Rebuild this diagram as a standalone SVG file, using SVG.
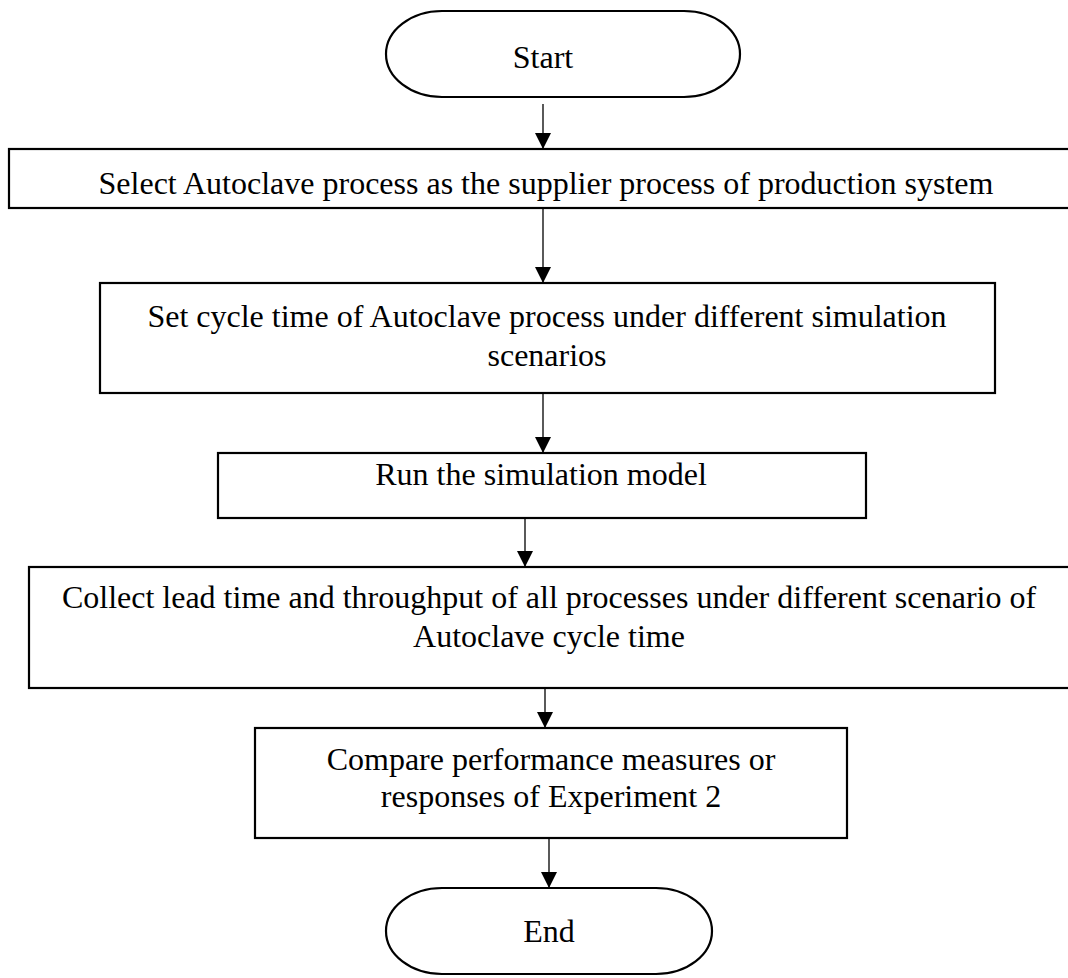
<svg xmlns="http://www.w3.org/2000/svg" width="1068" height="978" viewBox="0 0 1068 978">
  <style>
    .box { fill: #ffffff; stroke: #000000; stroke-width: 2.2; }
    .lbl { font-family: "Liberation Serif", "Times New Roman", serif; font-size: 32px; fill: #000000; text-anchor: middle; }
    .flow { stroke: #000000; stroke-width: 1.3; fill: none; marker-end: url(#arrow); }
  </style>
  <defs>
    <marker id="arrow" markerUnits="userSpaceOnUse" markerWidth="16" markerHeight="16" viewBox="0 0 16 16" refX="16" refY="8" orient="auto">
      <path d="M0,0 L16,8 L0,16 Z" fill="#000000"/>
    </marker>
  </defs>
  <rect width="1068" height="978" fill="#ffffff"/>

  <g id="connectors">
    <line class="flow" x1="543" y1="104" x2="543" y2="149"/>
    <line class="flow" x1="543" y1="208" x2="543" y2="283"/>
    <line class="flow" x1="543" y1="393" x2="543" y2="453"/>
    <line class="flow" x1="525" y1="518" x2="525" y2="567"/>
    <line class="flow" x1="545" y1="688" x2="545" y2="728"/>
    <line class="flow" x1="549" y1="838" x2="549" y2="888"/>
  </g>

  <g id="start">
    <rect class="box" x="386" y="11" width="354" height="86" rx="56" ry="43"/>
    <text class="lbl" x="543" y="68">Start</text>
  </g>

  <g id="select-supplier">
    <rect class="box" x="9" y="149" width="1080" height="59"/>
    <text class="lbl" x="546" y="194">Select Autoclave process as the supplier process of production system</text>
  </g>

  <g id="set-cycle-time">
    <rect class="box" x="100" y="283" width="895" height="110"/>
    <text class="lbl" x="547" y="327">Set cycle time of Autoclave process under different simulation</text>
    <text class="lbl" x="547" y="366">scenarios</text>
  </g>

  <g id="run-model">
    <rect class="box" x="218" y="453" width="648" height="65"/>
    <text class="lbl" x="541" y="485">Run the simulation model</text>
  </g>

  <g id="collect-results">
    <rect class="box" x="29" y="567" width="1060" height="121"/>
    <text class="lbl" x="549" y="608">Collect lead time and throughput of all processes under different scenario of</text>
    <text class="lbl" x="549" y="647">Autoclave cycle time</text>
  </g>

  <g id="compare-responses">
    <rect class="box" x="255" y="728" width="592" height="110"/>
    <text class="lbl" x="551" y="770">Compare performance measures or</text>
    <text class="lbl" x="551" y="807">responses of Experiment 2</text>
  </g>

  <g id="end">
    <rect class="box" x="386" y="888" width="326" height="86" rx="56" ry="43"/>
    <text class="lbl" x="549" y="942">End</text>
  </g>
</svg>
